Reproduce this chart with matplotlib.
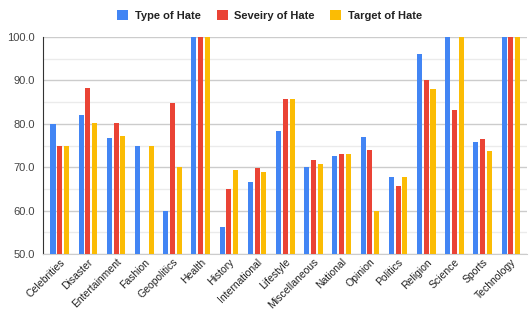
import numpy as np
from matplotlib import pyplot as plt

categories = ['Celebrities', 'Disaster', 'Entertainment', 'Fashion', 'Geopolitics',
              'Health', 'History', 'International', 'Lifestyle', 'Miscellaneous',
              'National', 'Opinion', 'Politics', 'Religion', 'Science', 'Sports',
              'Technology']
type_of_hate = [80.0, 82.0, 76.7, 75.0, 60.0, 100.0, 56.3, 66.6, 78.4, 70.0,
                72.6, 77.0, 67.8, 96.0, 100.0, 75.8, 100.0]
severity_of_hate = [75.0, 88.3, 80.1, 0.0, 84.9, 100.0, 65.0, 69.9, 85.7, 71.7,
                    73.0, 74.0, 65.7, 90.0, 83.1, 76.5, 100.0]
target_of_hate = [75.0, 80.3, 77.1, 75.0, 70.0, 100.0, 69.4, 69.0, 85.7, 70.8,
                  73.0, 60.0, 67.8, 88.1, 100.0, 73.7, 100.0]
y_ticks = [50, 60, 70, 80, 90, 100]
y_minor = [55, 65, 75, 85, 95]

series = [('Type of Hate', type_of_hate, '#4285F4'),
          ('Seveiry of Hate', severity_of_hate, '#EA4335'),
          ('Target of Hate', target_of_hate, '#FBBC04')]

plt.rcParams['font.family'] = ['Liberation Sans', 'DejaVu Sans']

fig = plt.figure(figsize=(5.29, 3.22), dpi=100)
ax = fig.add_axes([0.081, 0.211, 0.915, 0.674])

x = np.arange(len(categories))
width = 0.18
pitch = 0.24
for i, (name, vals, color) in enumerate(series):
    ax.bar(x + (i - 1) * pitch, vals, width, color=color, label=name, zorder=3)

ax.set_yticks(y_ticks)
ax.set_yticks(y_minor, minor=True)
ax.set_yticklabels(['{:.1f}'.format(v) for v in y_ticks])
ax.set_ylim(50, 100)
ax.set_xlim(-0.6, len(categories) - 0.43)
ax.grid(which='major', axis='y', color='#cccccc', linewidth=1, zorder=0)
ax.grid(which='minor', axis='y', color='#ebebeb', linewidth=1, zorder=0)
ax.tick_params(axis='y', which='both', length=0, labelsize=8, labelcolor='#444444', pad=6)
ax.tick_params(axis='x', length=0, labelsize=7.5, labelcolor='#222222', pad=2)
ax.set_xticks(x)
ax.set_xticklabels(categories, rotation=45, ha='right', rotation_mode='anchor')

for side in ['top', 'right']:
    ax.spines[side].set_visible(False)
ax.spines['left'].set_color('#333333')
ax.spines['bottom'].set_color('#cccccc')

fig.legend(loc='upper center', bbox_to_anchor=(0.51, 1.0), ncol=3, frameon=False,
           prop={'size': 8, 'weight': 'bold'}, handlelength=1.0, handleheight=1.0,
           columnspacing=1.4, handletextpad=0.6, labelcolor='#222222')

fig.savefig('out.png', dpi=100)
